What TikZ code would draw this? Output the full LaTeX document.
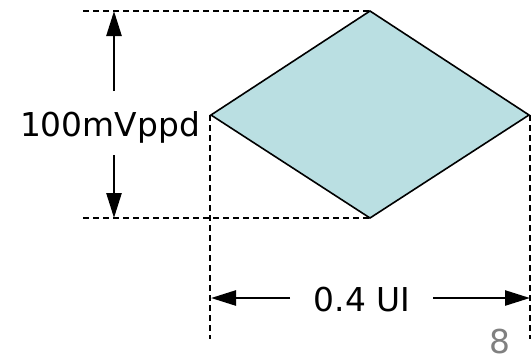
\documentclass[tikz,border=0pt]{standalone}
\usepackage{fontspec}
\setmainfont{DejaVu Sans}
\usetikzlibrary{arrows.meta}
\definecolor{eyecol}{RGB}{186,223,226}
\definecolor{pgnum}{RGB}{128,128,128}
\begin{document}
\begin{tikzpicture}[x=1bp,y=-1bp,
  dim/.style={line width=2.5bp, -{Triangle[length=25bp,width=15bp]}},
  guide/.style={line width=2.5bp, dash pattern=on 6bp off 4bp},
  lbl/.style={font=\fontsize{33}{36}\selectfont, inner sep=0pt, anchor=base}]
\useasboundingbox (0,0) rectangle (532,360);
% eye diamond
\coordinate (T) at (370,11);
\coordinate (L) at (211,115);
\coordinate (R) at (529,115);
\coordinate (B) at (370,218);
\filldraw[fill=eyecol, line width=1.6bp, line join=miter] (T) -- (R) -- (B) -- (L) -- cycle;
% guide lines
\coordinate (gt) at (83,11);
\coordinate (gb) at (83,218);
\coordinate (gl) at (210,339);
\coordinate (gr) at (530,339);
\coordinate (Lx) at (210,115);
\coordinate (Rx) at (530,115);
\draw[guide] (gt) -- (T);
\draw[guide] (gb) -- (B);
\draw[guide] (Lx) -- (gl);
\draw[guide] (Rx) -- (gr);
% vertical dimension
\node[lbl] (vlab) at (110,136) {100mVppd};
\coordinate (vu) at (114,91);
\coordinate (vd) at (114,155);
\coordinate (vt) at (114,11);
\coordinate (vb) at (114,218);
\draw[dim] (vu) -- (vt);
\draw[dim] (vd) -- (vb);
% horizontal dimension
\node[lbl] (hlab) at (362,311) {0.4 UI};
\coordinate (hl) at (290,298);
\coordinate (hr) at (433,298);
\coordinate (hL) at (211,298);
\coordinate (hR) at (530,298);
\draw[dim] (hl) -- (hL);
\draw[dim] (hr) -- (hR);
% page number
\node[lbl, text=pgnum] (pg) at (500,353) {8};
\end{tikzpicture}
\end{document}
